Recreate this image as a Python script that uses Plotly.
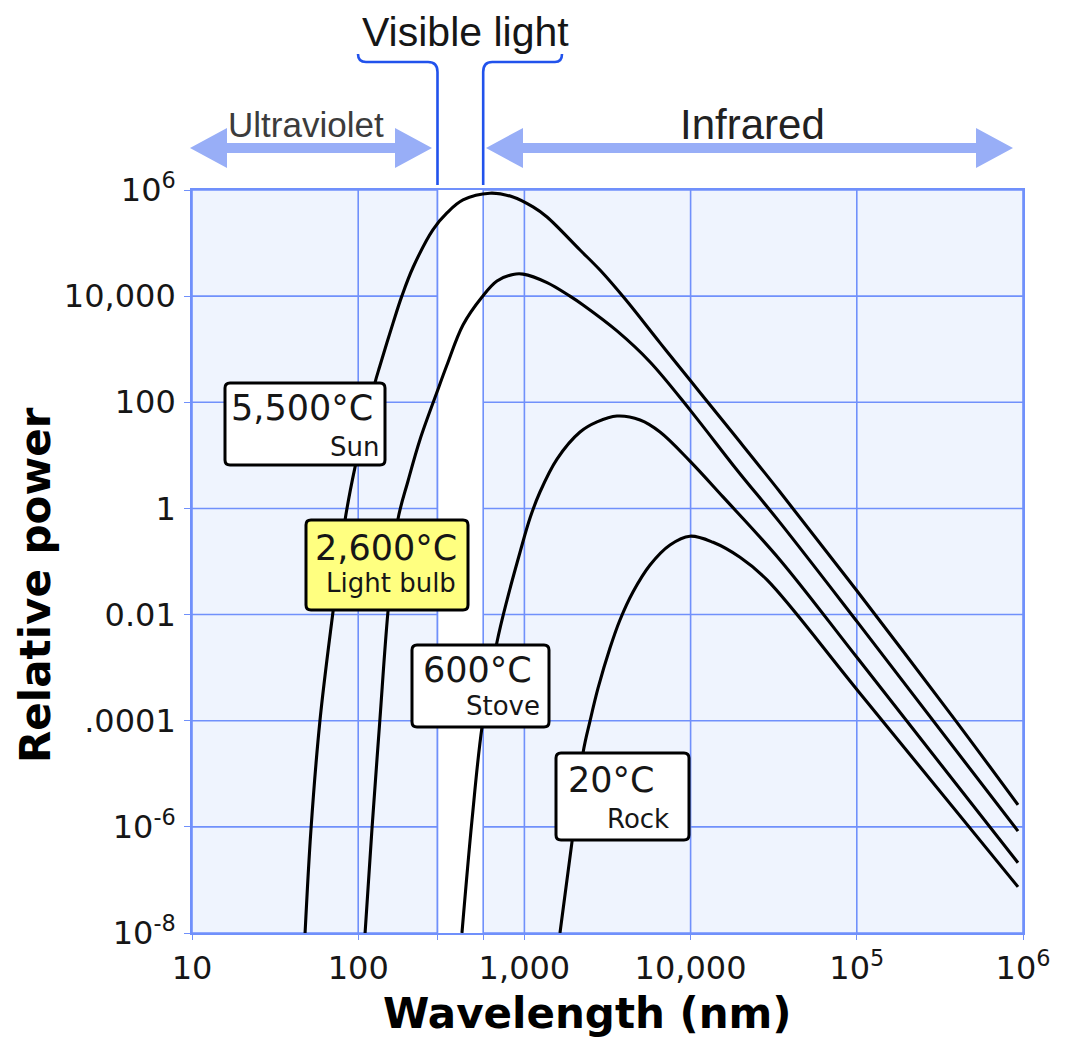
import math
import plotly.graph_objects as go

# ---------------- data ----------------
sun_wl = [47.9, 52.0, 58.9, 70.5, 83.3, 95.7, 126, 135, 162, 183, 214, 282, 342, 427,
          621, 854, 1127, 1368, 2162, 2851, 4027, 6546, 9910, 12560, 17990, 34510,
          1.02e5, 3.79e5, 9.33e5]
sun_pw = [1e-8, 9.1e-7, 1.02e-4, 0.0112, 0.60, 6.0, 230, 483, 3100, 1e4, 3.5e4, 1.8e5, 3.7e5, 6.5e5,
          8.7e5, 7.4e5, 4.8e5, 3.1e5, 7.4e4, 3.1e4, 8900, 1318, 263, 105, 26, 2.04,
          0.026, 1.17e-4, 2.6e-6]

bulb_wl = [110, 121, 135, 151, 173, 200, 235, 298, 342, 427, 556, 684, 854, 982, 1368,
           1880, 2254, 3606, 5700, 9910, 19010, 34510, 1.02e5, 9.33e5]
bulb_pw = [1e-8, 9.1e-7, 1.02e-4, 0.0112, 0.60, 3.4, 19.5, 156, 505, 2860, 9640, 1.93e4, 2.56e4, 2.6e4,
           1.8e4, 1e4, 6810, 2210, 575, 72, 5.3, 0.54, 0.0069, 8.3e-7]

stove_wl = [421, 484, 556, 684, 786, 942, 1081, 1241, 1571, 2162, 2735, 3606, 4966, 6546, 9910,
            15670, 34510, 1.02e5, 9.33e5]
stove_pw = [1e-8, 1.35e-6, 7.6e-5, 3.04e-3, 0.0188, 0.151, 0.66, 2.04, 8.5, 27.5, 42.6, 55, 46.4, 27.6, 7.8,
            1.65, 0.107, 1.45e-3, 2.1e-7]

rock_wl = [1637, 1932, 2254, 2483, 2773, 3273, 3758, 4500, 5700, 7516, 9910, 13650, 19820,
           28840, 1.02e5, 9.33e5]
rock_pw = [1e-8, 5.1e-7, 2.5e-5, 9.9e-5, 4.1e-4, 2.34e-3, 7.9e-3, 0.0266, 0.086, 0.205, 0.30, 0.23, 0.12,
           0.045, 3.6e-4, 7.4e-8]

series_names = ["5,500°C Sun", "2,600°C Light bulb", "600°C Stove", "20°C Rock"]

x_tickvals = [10, 100, 300, 565, 1000, 1e4, 1e5, 1e6]
x_ticktext = ["10", "100", "", "", "1,000", "10,000", "10<sup>5</sup>", "10<sup>6</sup>"]
y_tickvals = [1e6, 1e4, 100, 1, 0.01, 1e-4, 1e-6, 1e-8]
y_ticktext = ["10<sup>6</sup>", "10,000", "100", "1", "0.01", ".0001", "10<sup>-6</sup>", "10<sup>-8</sup>"]

visible_band = [300, 565]  # nm, white strip

labels_main = ["5,500°C", "2,600°C", "600°C", "20°C"]
labels_sub = ["Sun", "Light bulb", "Stove", "Rock"]

# ---------------- layout geometry ----------------
OFF = 8                     # default page margin of the html body
W, H = 1062, 1047
ML, MT = 184, 182
PW, PH = 831, 743
MR, MB = W - ML - PW, H - MT - PH
XR = [1, 6]
YR = [-8, 6]

GRID = "#7090fb"
DARKBLUE = "#2152ec"
ARROW = "#98aef7"
BG = "#eff4fe"
TXT = "#161616"


def px(x):
    return (x - OFF - ML) / PW


def py(y):
    return (OFF + MT + PH - y) / PH


def dx(v):
    return (math.log10(v) - XR[0]) / (XR[1] - XR[0])


def dy(v):
    return (math.log10(v) - YR[0]) / (YR[1] - YR[0])


def path_from_px(cmds):
    out = []
    for c in cmds:
        if isinstance(c, str):
            out.append(c)
        else:
            out.append(f"{px(c[0]):.5f},{py(c[1]):.5f}")
    return " ".join(out)


fig = go.Figure()
for wl, pw, name in [(sun_wl, sun_pw, series_names[0]), (bulb_wl, bulb_pw, series_names[1]),
                     (stove_wl, stove_pw, series_names[2]), (rock_wl, rock_pw, series_names[3])]:
    fig.add_trace(go.Scatter(x=wl, y=pw, mode="lines", name=name,
                             line=dict(color="black", width=3.1, shape="spline", smoothing=1.0),
                             hoverinfo="skip"))

shapes = []
# gridlines (below)
for v in x_tickvals:
    shapes.append(dict(type="line", xref="paper", yref="paper", x0=dx(v), x1=dx(v), y0=0, y1=1,
                       line=dict(color=GRID, width=1.6), layer="below"))
for v in y_tickvals:
    shapes.append(dict(type="line", xref="paper", yref="paper", x0=0, x1=1, y0=dy(v), y1=dy(v),
                       line=dict(color=GRID, width=1.6), layer="below"))
# white visible band
shapes.append(dict(type="rect", xref="paper", yref="paper", x0=dx(visible_band[0]), x1=dx(visible_band[1]),
                   y0=0, y1=1, fillcolor="white", line=dict(width=0), layer="below"))
for v in visible_band:
    shapes.append(dict(type="line", xref="paper", yref="paper", x0=dx(v), x1=dx(v), y0=0, y1=1,
                       line=dict(color=GRID, width=1.6), layer="below"))

# brackets above the plot for visible light
xl_px = OFF + ML + dx(visible_band[0]) * PW
xr_px = OFF + ML + dx(visible_band[1]) * PW
shapes.append(dict(type="path", xref="paper", yref="paper", layer="above",
                   path=path_from_px(["M", (358, 54), "Q", (358, 62), (366, 62), "L", (428, 62),
                                      "Q", (xl_px, 62), (xl_px, 72), "L", (xl_px, 185)]),
                   line=dict(color=DARKBLUE, width=2.6)))
shapes.append(dict(type="path", xref="paper", yref="paper", layer="above",
                   path=path_from_px(["M", (xr_px, 185), "L", (xr_px, 72), "Q", (xr_px, 62), (xr_px + 9, 62),
                                      "L", (555, 62), "Q", (562, 62), (562, 54)]),
                   line=dict(color=DARKBLUE, width=2.6)))


def double_arrow(xl, xr, yc, h=5, Hh=20, L=37):
    pts = [(xl, yc), (xl + L, yc - Hh), (xl + L, yc - h), (xr - L, yc - h), (xr - L, yc - Hh),
           (xr, yc), (xr - L, yc + Hh), (xr - L, yc + h), (xl + L, yc + h), (xl + L, yc + Hh)]
    cmds = ["M", pts[0]]
    for p in pts[1:]:
        cmds += ["L", p]
    cmds.append("Z")
    return path_from_px(cmds)


shapes.append(dict(type="path", xref="paper", yref="paper", layer="above",
                   path=double_arrow(190, 432, 148), fillcolor=ARROW, line=dict(width=0)))
shapes.append(dict(type="path", xref="paper", yref="paper", layer="above",
                   path=double_arrow(486, 1013, 148), fillcolor=ARROW, line=dict(width=0)))


def rrect(x0, y0, x1, y1, r=5):
    return path_from_px(["M", (x0 + r, y0), "L", (x1 - r, y0), "Q", (x1, y0), (x1, y0 + r),
                         "L", (x1, y1 - r), "Q", (x1, y1), (x1 - r, y1),
                         "L", (x0 + r, y1), "Q", (x0, y1), (x0, y1 - r),
                         "L", (x0, y0 + r), "Q", (x0, y0), (x0 + r, y0), "Z"])


boxes = [  # (x0, y0, x1, y1, fill, main_left, main_y, sub_right, sub_y)
    (225, 383, 385, 465, "white", 229, 408, 381, 447),
    (306, 520, 468, 610, "#ffff80", 313, 548, 458, 583),
    (412, 645, 549, 727, "white", 421, 670, 542, 706),
    (556, 753, 689, 840, "white", 566, 780, 671, 819),
]

annotations = []
for i, (x0, y0, x1, y1, fill, mx, my, sx, sy) in enumerate(boxes):
    shapes.append(dict(type="path", xref="paper", yref="paper", layer="above",
                       path=rrect(x0, y0, x1, y1), fillcolor=fill,
                       line=dict(color="black", width=3)))
    annotations.append(dict(text=labels_main[i], xref="paper", yref="paper", x=px(mx), y=py(my),
                            xanchor="left", yanchor="middle", showarrow=False,
                            font=dict(family="DejaVu Sans", size=35, color=TXT)))
    annotations.append(dict(text=labels_sub[i], xref="paper", yref="paper", x=px(sx), y=py(sy),
                            xanchor="right", yanchor="middle", showarrow=False,
                            font=dict(family="DejaVu Sans", size=26, color=TXT)))

annotations += [
    dict(text="Visible light", xref="paper", yref="paper", x=px(465), y=py(32), xanchor="center",
         yanchor="middle", showarrow=False, font=dict(family="Liberation Sans", size=41, color=TXT)),
    dict(text="Ultraviolet", xref="paper", yref="paper", x=px(306), y=py(124), xanchor="center",
         yanchor="middle", showarrow=False, font=dict(family="Liberation Sans", size=35, color="#3c3c3c")),
    dict(text="Infrared", xref="paper", yref="paper", x=px(752), y=py(125), xanchor="center",
         yanchor="middle", showarrow=False, font=dict(family="Liberation Sans", size=42, color="#222222")),
    dict(text="<b>Relative power</b>", xref="paper", yref="paper", x=px(35), y=py(585), xanchor="center",
         yanchor="middle", textangle=-90, showarrow=False,
         font=dict(family="DejaVu Sans", size=42, color="black")),
    dict(text="<b>Wavelength (nm)</b>", xref="paper", yref="paper", x=px(587), y=py(1013),
         xanchor="center", yanchor="middle", showarrow=False,
         font=dict(family="DejaVu Sans", size=42, color="black")),
]

tickfont = dict(family="DejaVu Sans", size=32, color=TXT)
fig.update_layout(
    width=W, height=H,
    margin=dict(l=ML, r=MR, t=MT, b=MB, autoexpand=False),
    paper_bgcolor="white", plot_bgcolor=BG,
    showlegend=False,
    shapes=shapes, annotations=annotations,
    xaxis=dict(type="log", range=XR, tickvals=x_tickvals, ticktext=x_ticktext, showgrid=False,
               zeroline=False, showline=True, linecolor=GRID, linewidth=1.6, mirror=True,
               ticks="outside", ticklen=5, tickcolor=GRID, tickwidth=1.4, tickfont=tickfont,
               ticklabelstandoff=1),
    yaxis=dict(type="log", range=YR, tickvals=y_tickvals, ticktext=y_ticktext, showgrid=False,
               zeroline=False, showline=True, linecolor=GRID, linewidth=1.6, mirror=True,
               ticks="outside", ticklen=6, tickcolor=GRID, tickwidth=1.4, tickfont=tickfont,
               ticklabelstandoff=2),
)

fig.write_html("out.html")
